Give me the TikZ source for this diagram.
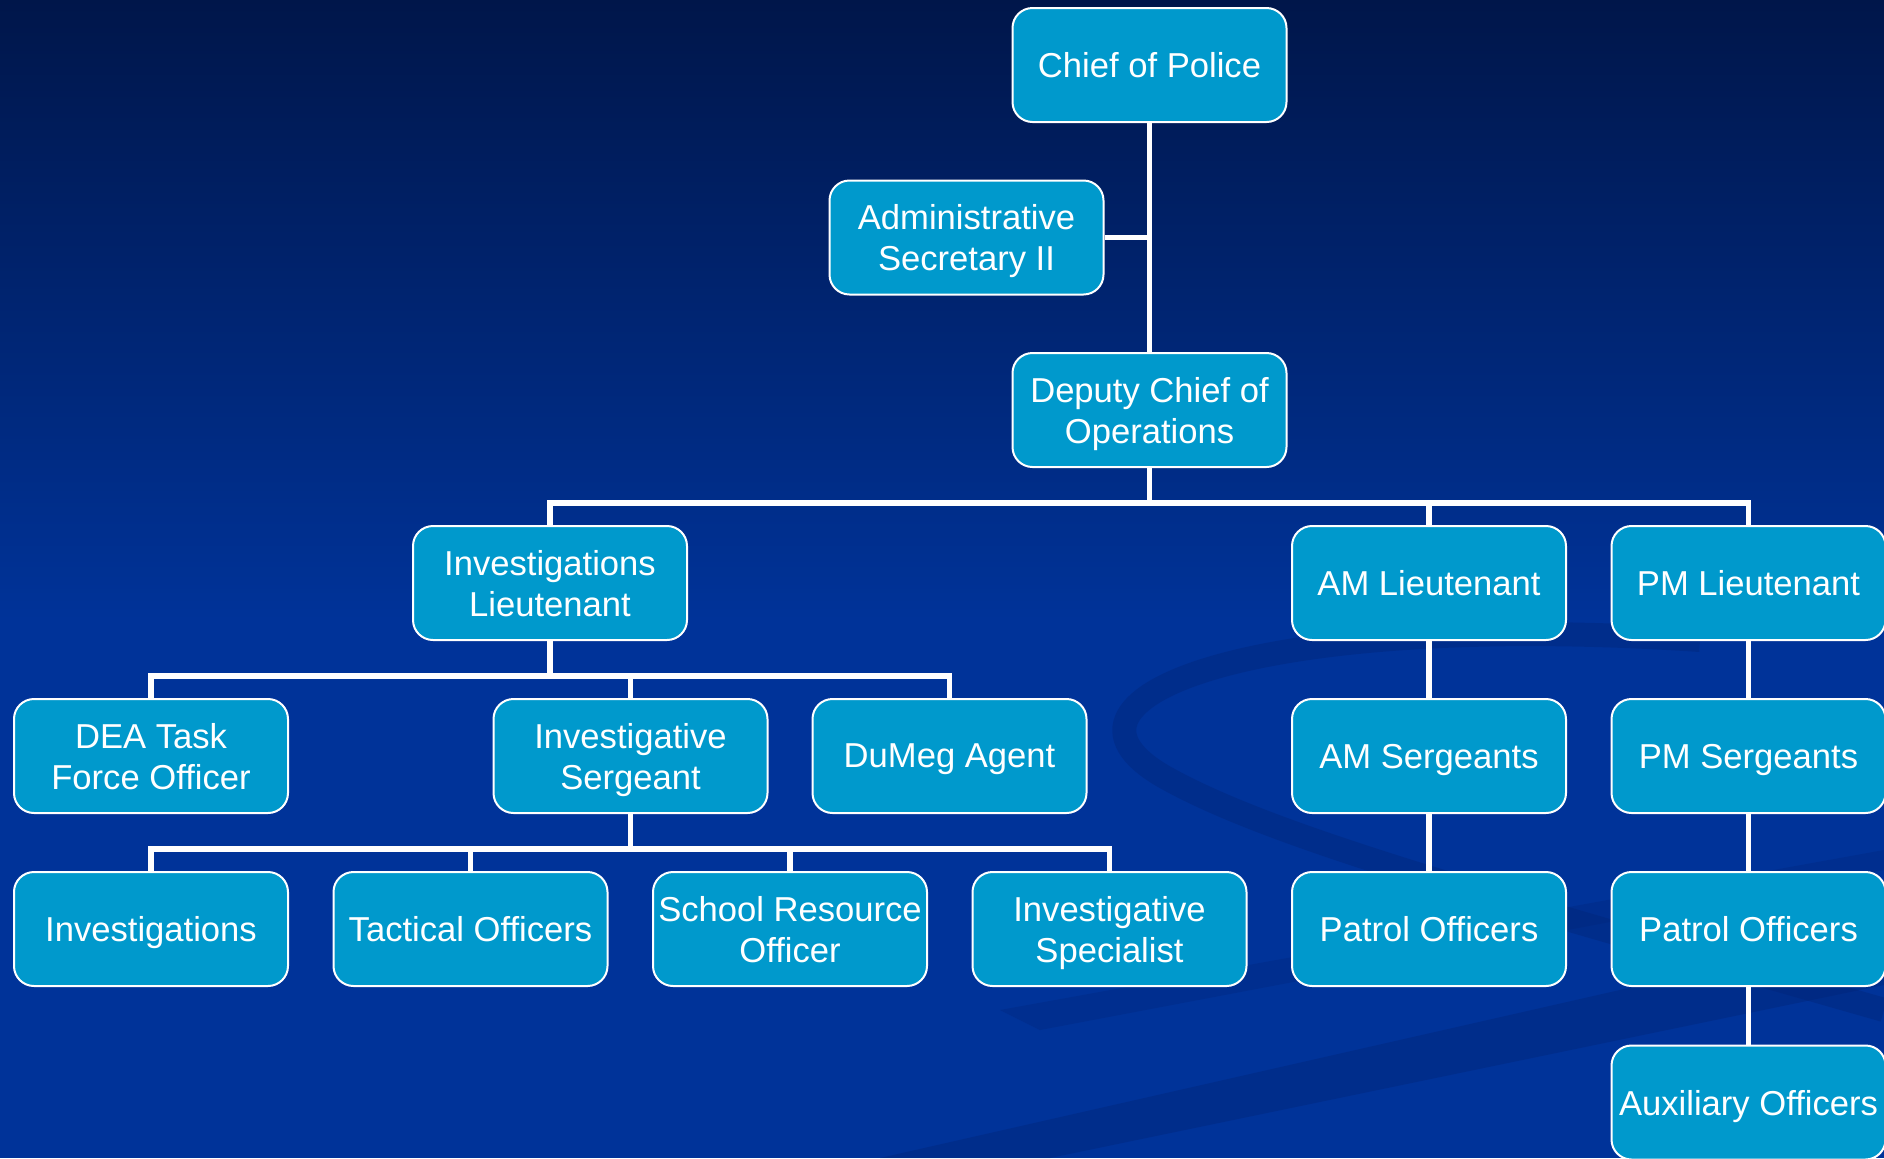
\documentclass[tikz,border=0pt]{standalone}
\usepackage{fontspec}
\setmainfont{Liberation Sans}
\definecolor{BoxBlue}{RGB}{0,153,204}
\definecolor{NavyTop}{RGB}{0,22,74}
\definecolor{NavyBot}{RGB}{0,51,153}
\definecolor{Swoosh}{RGB}{0,36,120}

\begin{document}
\begin{tikzpicture}[x=0.5pt,y=-0.5pt]
    \tikzset{
      BoxStyle/.style = { rectangle, rounded corners=10pt, draw=white, line width=1pt,
                          fill=BoxBlue, text=white, align=center, inner sep=1pt,
                          text depth=0pt,
                          minimum width=137pt, minimum height=57pt,
                          font=\fontsize{17.3}{20.5}\selectfont },
      LinkStyle/.style = { draw=white, line width=2.7pt } }
      \useasboundingbox (0,0) rectangle (1884,1158);

      % background
      \fill[NavyBot] (0,0) rectangle (1884,1158);
      \shade[top color=NavyTop, bottom color=NavyBot] (0,0) rectangle (1884,620);
      \draw[Swoosh, line width=12pt, opacity=0.4]
        (1700,640) .. controls (1250,610) and (1020,700) .. (1170,780)
        .. controls (1280,840) and (1500,900) .. (1884,1010);
      \fill[Swoosh, opacity=0.4] (880,1158) -- (1884,930) -- (1884,985) -- (1050,1158) -- cycle;
      \fill[Swoosh, opacity=0.3] (1000,1010) -- (1884,850) -- (1884,870) -- (1040,1030) -- cycle;

      \node[BoxStyle] (chief) at (1149.5, 65) {Chief of Police};
      \node[BoxStyle] (admin) at (966.5, 237.5) {Administrative\\Secretary II};
      \node[BoxStyle] (deputy) at (1149.5, 410) {Deputy Chief of\\Operations};

      \node[BoxStyle] (invlt) at (550, 583) {Investigations\\Lieutenant};
      \node[BoxStyle] (amlt) at (1429, 583) {AM Lieutenant};
      \node[BoxStyle] (pmlt) at (1748.5, 583) {PM Lieutenant};

      \node[BoxStyle] (dea) at (151, 756) {DEA Task\\Force Officer};
      \node[BoxStyle] (invsgt) at (630.5, 756) {Investigative\\Sergeant};
      \node[BoxStyle] (dumeg) at (949.5, 756) {DuMeg Agent};
      \node[BoxStyle] (amsgt) at (1429, 756) {AM Sergeants};
      \node[BoxStyle] (pmsgt) at (1748.5, 756) {PM Sergeants};

      \node[BoxStyle] (invest) at (151, 929) {Investigations};
      \node[BoxStyle] (tact) at (470.5, 929) {Tactical Officers};
      \node[BoxStyle] (sro) at (790, 929) {School Resource\\Officer};
      \node[BoxStyle] (invspec) at (1109.5, 929) {Investigative\\Specialist};
      \node[BoxStyle] (ampatrol) at (1429, 929) {Patrol Officers};
      \node[BoxStyle] (pmpatrol) at (1748.5, 929) {Patrol Officers};

      \node[BoxStyle] (aux) at (1748.5, 1102.5) {Auxiliary Officers};

      \draw[LinkStyle] (chief) -- (deputy);
      \draw[LinkStyle] (admin.east) -- (admin.east -| chief.south);

      \draw[LinkStyle] (deputy.south) -- ++(0,35) -| (invlt.north);
      \draw[LinkStyle] (deputy.south) -- ++(0,35) -| (amlt.north);
      \draw[LinkStyle] (deputy.south) -- ++(0,35) -| (pmlt.north);

      \draw[LinkStyle] (invlt.south) -- ++(0,35) -| (dea.north);
      \draw[LinkStyle] (invlt.south) -- ++(0,35) -| (invsgt.north);
      \draw[LinkStyle] (invlt.south) -- ++(0,35) -| (dumeg.north);

      \draw[LinkStyle] (invsgt.south) -- ++(0,35) -| (invest.north);
      \draw[LinkStyle] (invsgt.south) -- ++(0,35) -| (tact.north);
      \draw[LinkStyle] (invsgt.south) -- ++(0,35) -| (sro.north);
      \draw[LinkStyle] (invsgt.south) -- ++(0,35) -| (invspec.north);

      \draw[LinkStyle] (amlt) -- (amsgt);
      \draw[LinkStyle] (amsgt) -- (ampatrol);
      \draw[LinkStyle] (pmlt) -- (pmsgt);
      \draw[LinkStyle] (pmsgt) -- (pmpatrol);
      \draw[LinkStyle] (pmpatrol) -- (aux);
%     \draw[LinkStyle] (ampatrol) -- (pmpatrol);
    \end{tikzpicture}
\end{document}
